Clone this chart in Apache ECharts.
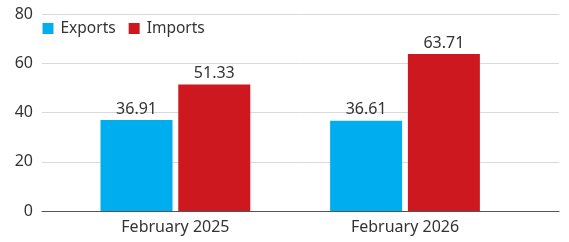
<!DOCTYPE html>
<html>
<head>
<meta charset="utf-8">
<script src="https://cdn.jsdelivr.net/npm/echarts@6/dist/echarts.min.js"></script>
<style>
  html, body { margin: 0; padding: 0; background: #fff; }
  #chart { width: 569px; height: 242px; }
</style>
</head>
<body>
<div id="chart"></div>
<script>
// data
const categories = ['February 2025', 'February 2026'];
const exportsData = [36.91, 36.61];
const importsData = [51.33, 63.71];
const yTicks = [0, 20, 40, 60, 80];

const FONT = 'Noto Sans';

const chart = echarts.init(document.getElementById('chart'));

const option = {
  backgroundColor: '#fff',
  animation: false,
  textStyle: { fontFamily: FONT },
  legend: {
    data: ['Exports', 'Imports'],
    left: 37.5,
    top: 15.5,
    icon: 'rect',
    itemWidth: 11,
    itemHeight: 11,
    itemGap: 13,
    textStyle: { fontSize: 15.5, color: '#333', fontFamily: FONT, padding: [0, 0, 0, 2] }
  },
  grid: [
    // background grid: split lines + axis line, full width
    { left: 42, right: 10, top: 14, bottom: 31 },
    // bars grid
    { left: 60.6, right: 49.2, top: 14, bottom: 31 }
  ],
  xAxis: [
    {
      gridIndex: 0,
      type: 'value',
      min: 0,
      max: 1,
      axisLine: { show: true, lineStyle: { color: '#555', width: 1.2 } },
      axisTick: { show: false },
      axisLabel: { show: false },
      splitLine: { show: false }
    },
    {
      gridIndex: 1,
      type: 'category',
      data: categories,
      axisLine: { show: false },
      axisTick: { show: false },
      axisLabel: { fontSize: 16, color: '#333', margin: 8, fontFamily: FONT }
    }
  ],
  yAxis: [
    {
      gridIndex: 0,
      type: 'value',
      min: yTicks[0],
      max: yTicks[yTicks.length - 1],
      interval: 20,
      axisLine: { show: false },
      axisTick: { show: false },
      axisLabel: { fontSize: 16, color: '#333', margin: 9, fontFamily: FONT },
      splitLine: { lineStyle: { color: '#d9d9d9', width: 1 } }
    },
    {
      gridIndex: 1,
      type: 'value',
      min: yTicks[0],
      max: yTicks[yTicks.length - 1],
      show: false
    }
  ],
  series: [
    {
      name: 'Exports',
      type: 'bar',
      xAxisIndex: 1,
      yAxisIndex: 1,
      data: exportsData,
      barWidth: 72,
      barGap: '8%',
      itemStyle: { color: '#00aeef' },
      label: { show: true, position: 'top', distance: 3, fontSize: 16, color: '#333', fontFamily: FONT }
    },
    {
      name: 'Imports',
      type: 'bar',
      xAxisIndex: 1,
      yAxisIndex: 1,
      data: importsData,
      barWidth: 72,
      barGap: '8%',
      itemStyle: { color: '#cc181e' },
      label: { show: true, position: 'top', distance: 3, fontSize: 16, color: '#333', fontFamily: FONT }
    }
  ]
};

chart.setOption(option);
</script>
</body>
</html>
